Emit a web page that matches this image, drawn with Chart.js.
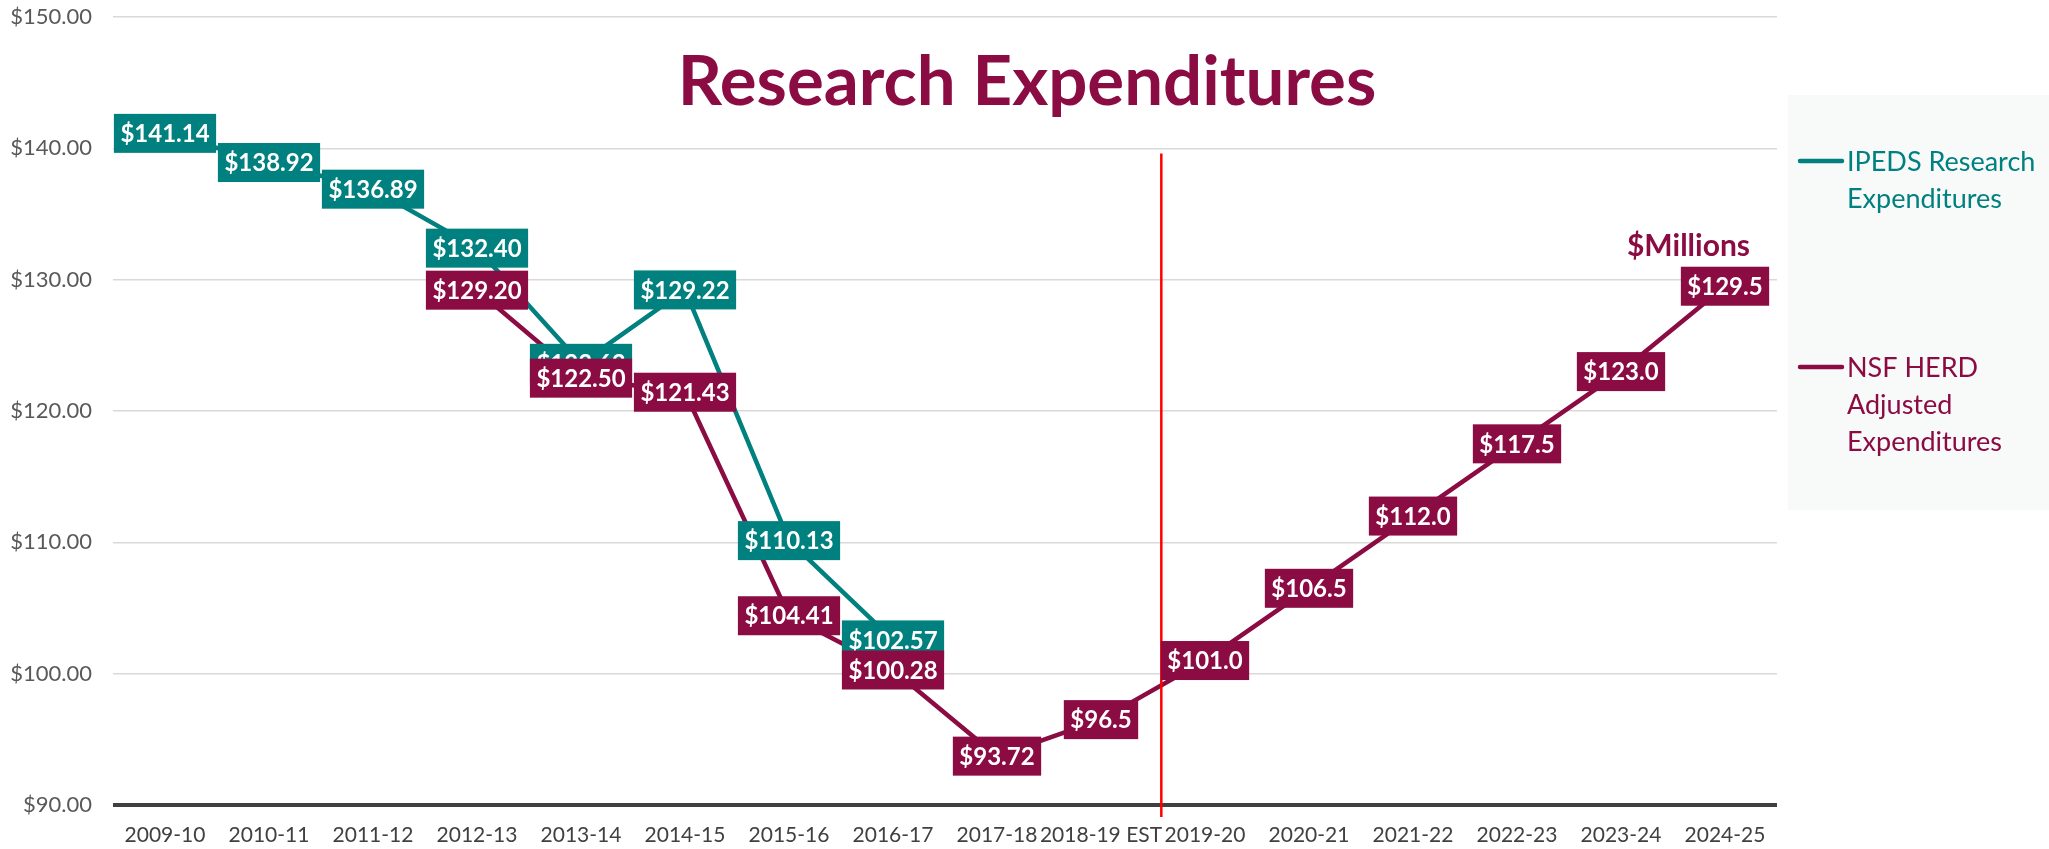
<!DOCTYPE html>
<html>
<head>
<meta charset="utf-8">
<title>Research Expenditures</title>
<script src="https://cdn.jsdelivr.net/npm/chart.js@4.4.1/dist/chart.umd.min.js"></script>
<style>
  html, body { margin: 0; padding: 0; background: #fff; }
  #wrap { position: relative; width: 2049px; height: 849px; }
</style>
</head>
<body>
<div id="wrap"><canvas id="researchChart" width="2049" height="849"></canvas></div>
<script>
// Fiscal years on the x axis
const years = ['2009-10', '2010-11', '2011-12', '2012-13', '2013-14', '2014-15', '2015-16', '2016-17',
               '2017-18', '2018-19 EST', '2019-20', '2020-21', '2021-22', '2022-23', '2023-24', '2024-25'];

// IPEDS research expenditures, $ millions (reported through 2016-17)
const ipedsValues = [141.14, 138.92, 136.89, 132.40, 123.63, 129.22, 110.13, 102.57,
                     null, null, null, null, null, null, null, null];

// NSF HERD adjusted expenditures, $ millions (2018-19 onward are estimates)
const nsfValues = [null, null, null, 129.20, 122.50, 121.43, 104.41, 100.28,
                   93.72, 96.5, 101.0, 106.5, 112.0, 117.5, 123.0, 129.5];

const yTicks = [90, 100, 110, 120, 130, 140, 150];

const ipedsLegend = ['IPEDS Research', 'Expenditures'];
const nsfLegend = ['NSF HERD', 'Adjusted', 'Expenditures'];

// estimates start here; shown with one decimal
const firstEstimate = years.indexOf('2018-19 EST');
// red divider sits a little past the estimate year
const dividerAt = 9.58;
const dividerTop = 139.6;

const TEAL = '#00807F';
const WINE = '#8B0B43';
const FONT = 'Lato, "Noto Sans", sans-serif';

// Red line, boxed value labels, title and legend
const decorations = {
    id: 'decorations',
    afterDatasetsDraw(chart) {
        const ctx = chart.ctx;
        const x = chart.scales.x;
        const y = chart.scales.y;
        const area = chart.chartArea;

        // estimate divider
        const step = x.getPixelForValue(1) - x.getPixelForValue(0);
        const dx = x.getPixelForValue(0) + dividerAt * step;
        ctx.save();
        ctx.strokeStyle = '#FF0000';
        ctx.lineWidth = 2.5;
        ctx.beginPath();
        ctx.moveTo(dx, y.getPixelForValue(dividerTop));
        ctx.lineTo(dx, area.bottom + 12);
        ctx.stroke();
        ctx.restore();

        // value labels, centred on each point
        ctx.save();
        ctx.font = 'bold 24px ' + FONT;
        ctx.textAlign = 'center';
        ctx.textBaseline = 'middle';
        chart.data.datasets.forEach((ds, i) => {
            const meta = chart.getDatasetMeta(i);
            meta.data.forEach((pt, j) => {
                const v = ds.data[j];
                if (v === null || v === undefined) return;
                const digits = (i === 1 && j >= firstEstimate) ? 1 : 2;
                const text = '$' + v.toFixed(digits);
                const w = ctx.measureText(text).width + 13;
                const h = 39;
                ctx.fillStyle = ds.borderColor;
                ctx.fillRect(pt.x - w / 2, pt.y - h / 2, w, h);
                ctx.fillStyle = '#FFFFFF';
                ctx.fillText(text, pt.x, pt.y + 1);
            });
        });
        ctx.restore();

        // title and unit note
        ctx.save();
        ctx.fillStyle = WINE;
        ctx.textBaseline = 'alphabetic';
        ctx.font = 'bold 69px ' + FONT;
        ctx.textAlign = 'center';
        ctx.fillText('Research Expenditures', 1027, 105);
        ctx.font = 'bold 30px ' + FONT;
        ctx.textAlign = 'right';
        ctx.fillText('$Millions', 1750, 256);
        ctx.restore();

        // legend panel
        ctx.save();
        ctx.fillStyle = '#F8F9F9';
        ctx.fillRect(1788, 95, 2049 - 1788, 415);
        const entries = [
            { lines: ipedsLegend, color: chart.data.datasets[0].borderColor, base: 171 },
            { lines: nsfLegend, color: chart.data.datasets[1].borderColor, base: 377 }
        ];
        ctx.font = '27px ' + FONT;
        ctx.textAlign = 'left';
        ctx.textBaseline = 'alphabetic';
        entries.forEach(e => {
            ctx.strokeStyle = e.color;
            ctx.lineWidth = 4.5;
            ctx.lineCap = 'round';
            ctx.beginPath();
            ctx.moveTo(1800, e.base - 10);
            ctx.lineTo(1842, e.base - 10);
            ctx.stroke();
            ctx.fillStyle = e.color;
            e.lines.forEach((t, k) => ctx.fillText(t, 1847, e.base + k * 37));
        });
        ctx.restore();
    }
};

const ctx = document.getElementById('researchChart').getContext('2d');
new Chart(ctx, {
    type: 'line',
    data: {
        labels: years,
        datasets: [{
            label: 'IPEDS Research Expenditures',
            data: ipedsValues,
            borderColor: TEAL,
            backgroundColor: TEAL,
            borderWidth: 4.5,
            borderJoinStyle: 'round',
            pointRadius: 0,
            tension: 0
        }, {
            label: 'NSF HERD Adjusted Expenditures',
            data: nsfValues,
            borderColor: WINE,
            backgroundColor: WINE,
            borderWidth: 4.5,
            borderJoinStyle: 'round',
            pointRadius: 0,
            tension: 0
        }]
    },
    options: {
        responsive: false,
        animation: false,
        devicePixelRatio: 1,
        layout: { padding: { top: 17, right: 272, left: 0, bottom: 0 } },
        plugins: {
            legend: { display: false },
            title: { display: false },
            tooltip: { enabled: false }
        },
        scales: {
            x: {
                offset: true,
                grid: { display: false, drawTicks: false },
                border: { display: false },
                ticks: {
                    font: { family: FONT, size: 21 },
                    color: '#404040',
                    padding: 18,
                    maxRotation: 0,
                    autoSkip: false
                },
                afterFit: s => { s.height = 44; }
            },
            y: {
                min: 90,
                max: 150,
                afterBuildTicks: s => { s.ticks = yTicks.map(v => ({ value: v })); },
                grid: {
                    color: c => c.tick && c.tick.value === 90 ? '#404040' : '#D9D9D9',
                    lineWidth: c => c.tick && c.tick.value === 90 ? 4 : 1.5,
                    drawTicks: true,
                    tickLength: 21,
                    tickColor: 'rgba(0,0,0,0)'
                },
                border: { display: false },
                ticks: {
                    callback: v => '$' + Number(v).toFixed(2),
                    font: { family: FONT, size: 22 },
                    color: '#595959',
                    padding: 0
                },
                afterFit: s => { s.width = 113; }
            }
        }
    },
    plugins: [decorations]
});
</script>
</body>
</html>
